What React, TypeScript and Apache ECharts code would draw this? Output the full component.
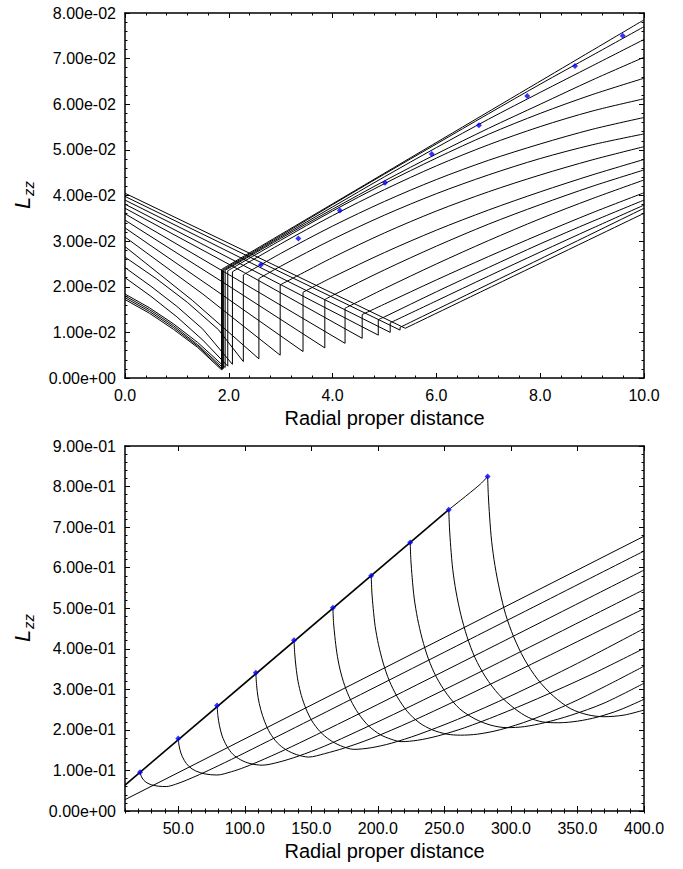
import React, { useEffect, useRef } from 'react';
import * as echarts from 'echarts';

type Pt = [number, number];

const FONT = '"Liberation Sans", Arial, Helvetica, sans-serif';
const INK = '#000000';
const MARK = '#0000ff';

// ---------- Upper panel: radial proper distance 0 – 10 ----------
// Falling branch of every track, ending with the vertical jump.
const upperFalls: Pt[][] = [
  [[0, 0.0172], [0.47, 0.0142], [0.93, 0.0107], [1.4, 0.0067], [1.86, 0.0018], [1.86, 0.0238]],
  [[0, 0.0176], [0.47, 0.0146], [0.93, 0.0111], [1.4, 0.007], [1.88, 0.0019], [1.88, 0.0237]],
  [[0, 0.018], [0.47, 0.015], [0.93, 0.0115], [1.4, 0.0073], [1.9, 0.0021], [1.9, 0.0236]],
  [[0, 0.0184], [0.47, 0.0154], [0.93, 0.0119], [1.4, 0.0078], [1.93, 0.0023], [1.93, 0.0236]],
  [[0, 0.022], [0.5, 0.0179], [1.0, 0.0134], [1.5, 0.0083], [1.98, 0.0026], [1.98, 0.0235]],
  [[0, 0.0242], [0.5, 0.0201], [1.0, 0.0157], [1.5, 0.0107], [2.07, 0.003], [2.07, 0.0233]],
  [[0, 0.0265], [0.6, 0.0218], [1.2, 0.0166], [1.8, 0.0106], [2.28, 0.0036], [2.28, 0.0226]],
  [[0, 0.0288], [1.3, 0.017], [2.58, 0.0042], [2.58, 0.0218]],
  [[0, 0.0309], [1.5, 0.0184], [2.99, 0.005], [2.99, 0.0204]],
  [[0, 0.0329], [1.7, 0.0196], [3.43, 0.0058], [3.43, 0.0188]],
  [[0, 0.0346], [1.9, 0.0209], [3.85, 0.0066], [3.85, 0.0172]],
  [[0, 0.036], [2.1, 0.022], [4.24, 0.0076], [4.24, 0.0153]],
  [[0, 0.0372], [2.3, 0.0231], [4.57, 0.0087], [4.57, 0.0139]],
  [[0, 0.0381], [4.88, 0.0094], [4.88, 0.0128]],
  [[0, 0.039], [5.11, 0.01], [5.11, 0.0121]],
  [[0, 0.0398], [5.3, 0.0105], [5.3, 0.0111]],
  [[0, 0.0405], [5.4, 0.0109]],
];

// Rising branch of every track, from the top of its jump out to 10.
const upperRises: Pt[][] = [
  [[1.86, 0.0238], [10, 0.0785]],
  [[1.88, 0.0237], [3, 0.0312], [4, 0.038], [5, 0.0447], [6, 0.0513], [7, 0.0579], [8, 0.0644], [9, 0.0707], [10, 0.077]],
  [[1.9, 0.0236], [3, 0.0309], [4, 0.0375], [5, 0.0441], [6, 0.0505], [7, 0.0567], [8, 0.0626], [9, 0.0684], [10, 0.0742]],
  [[1.93, 0.0236], [3, 0.0306], [4, 0.037], [5, 0.0432], [6, 0.0491], [7, 0.0547], [8, 0.06], [9, 0.0653], [10, 0.0703]],
  [[1.98, 0.0235], [3, 0.0302], [4, 0.0366], [5, 0.0426], [6, 0.0482], [7, 0.0534], [8, 0.058], [9, 0.0621], [10, 0.0657]],
  [[2.07, 0.0233], [3, 0.0294], [4, 0.0356], [5, 0.0413], [6, 0.0465], [7, 0.0511], [8, 0.0551], [9, 0.0585], [10, 0.0612]],
  [[2.28, 0.0226], [3, 0.0273], [4, 0.0333], [5, 0.0387], [6, 0.0435], [7, 0.0477], [8, 0.0513], [9, 0.0545], [10, 0.0571]],
  [[2.58, 0.0218], [3, 0.0245], [4, 0.0304], [5, 0.0357], [6, 0.0404], [7, 0.0445], [8, 0.0481], [9, 0.0511], [10, 0.0535]],
  [[2.99, 0.0204], [4, 0.0264], [5, 0.0318], [6, 0.0366], [7, 0.0408], [8, 0.0445], [9, 0.0478], [10, 0.0507]],
  [[3.43, 0.0188], [4, 0.0221], [5, 0.0275], [6, 0.0324], [7, 0.0368], [8, 0.0408], [9, 0.0445], [10, 0.0479]],
  [[3.85, 0.0172], [4, 0.0181], [5, 0.0237], [6, 0.0289], [7, 0.0337], [8, 0.038], [9, 0.042], [10, 0.0456]],
  [[4.24, 0.0153], [5, 0.0196], [6, 0.025], [7, 0.0301], [8, 0.0349], [9, 0.0393], [10, 0.0434]],
  [[4.57, 0.0139], [5, 0.0162], [6, 0.0215], [7, 0.0266], [8, 0.0315], [9, 0.0362], [10, 0.0406]],
  [[4.88, 0.0128], [5, 0.0134], [6, 0.0189], [7, 0.0242], [8, 0.0294], [9, 0.0343], [10, 0.039]],
  [[5.11, 0.0121], [6, 0.0169], [7, 0.0223], [8, 0.0276], [9, 0.0328], [10, 0.0379]],
  [[5.3, 0.0111], [10, 0.0372]],
  [[5.4, 0.0109], [10, 0.0361]],
];

const upperMarkers: Pt[] = [
  [2.62, 0.0248], [3.34, 0.0306], [4.14, 0.0367], [5.01, 0.0428], [5.91, 0.0491],
  [6.82, 0.0554], [7.75, 0.0618], [8.67, 0.0684], [9.59, 0.075],
];

// ---------- Lower panel: radial proper distance 10 – 400 ----------
const lowerEnvelope: Pt[] = [[10, 0.064], [253.3, 0.743]];
const lowerEnvelopeTip: Pt[] = [[253.3, 0.743], [276, 0.803], [282.5, 0.8245]];
const lowerOuterLine: Pt[] = [[10, 0.028], [400, 0.6775]];

const lowerTracks: Pt[][] = [
  [[21.3, 0.0953], [22.2, 0.086], [23.8, 0.077], [26.5, 0.0695], [30, 0.0645], [35, 0.0612], [41, 0.0603], [48, 0.0659], [56, 0.0758], [66, 0.0899], [80, 0.1114], [100, 0.1435], [150, 0.2258], [250, 0.3916], [400, 0.641]],
  [[50, 0.179], [50.7, 0.16], [52, 0.143], [54.5, 0.125], [58, 0.11], [63, 0.099], [70, 0.0915], [79, 0.0887], [90, 0.0969], [100, 0.108], [115, 0.1285], [135, 0.1583], [160, 0.1979], [200, 0.2628], [280, 0.3948], [400, 0.594]],
  [[79.2, 0.26], [79.8, 0.235], [81, 0.21], [83, 0.185], [86.5, 0.16], [91, 0.14], [97, 0.126], [104, 0.117], [113, 0.113], [125, 0.12], [140, 0.135], [160, 0.16], [185, 0.197], [220, 0.251], [280, 0.348], [400, 0.546]],
  [[108.3, 0.341], [108.9, 0.31], [110, 0.28], [112, 0.25], [115, 0.22], [119, 0.192], [124.5, 0.168], [131, 0.151], [139, 0.139], [148, 0.133], [160, 0.1414], [175, 0.1554], [195, 0.1787], [225, 0.2206], [270, 0.2896], [330, 0.3855], [400, 0.499]],
  [[137, 0.421], [137.5, 0.39], [138.5, 0.355], [140, 0.32], [142.5, 0.285], [146, 0.252], [150.5, 0.222], [156.5, 0.196], [164, 0.175], [172, 0.161], [182, 0.152], [195, 0.156], [210, 0.167], [230, 0.188], [260, 0.226], [300, 0.284], [350, 0.364], [400, 0.45]],
  [[166.2, 0.501], [166.7, 0.465], [167.7, 0.43], [169.2, 0.39], [171.5, 0.35], [175, 0.31], [179.5, 0.274], [185.5, 0.24], [193, 0.21], [202, 0.188], [210, 0.177], [217.5, 0.171], [230, 0.1745], [245, 0.185], [265, 0.205], [290, 0.236], [320, 0.277], [360, 0.336], [400, 0.401]],
  [[195, 0.58], [195.5, 0.54], [196.5, 0.5], [198, 0.455], [200.5, 0.41], [204, 0.365], [208.5, 0.322], [214.5, 0.282], [222, 0.246], [231, 0.218], [241, 0.2], [252, 0.1895], [262, 0.187], [275, 0.1895], [292, 0.2005], [315, 0.2245], [345, 0.266], [370, 0.306], [400, 0.357]],
  [[224.3, 0.662], [224.8, 0.62], [225.8, 0.575], [227.3, 0.525], [229.8, 0.475], [233.3, 0.425], [238, 0.375], [244, 0.33], [252, 0.288], [261.5, 0.252], [273, 0.227], [285, 0.2115], [297, 0.2055], [310, 0.208], [325, 0.2175], [345, 0.236], [370, 0.266], [400, 0.315]],
  [[253.3, 0.743], [253.8, 0.7], [254.8, 0.65], [256.3, 0.595], [258.8, 0.54], [262.3, 0.485], [267, 0.43], [273, 0.378], [281, 0.33], [291, 0.287], [303, 0.252], [313, 0.231], [324, 0.2195], [336, 0.2176], [350, 0.2215], [365, 0.2315], [382, 0.2495], [400, 0.2755]],
  [[282.5, 0.8245], [283, 0.78], [284, 0.725], [285.5, 0.665], [288, 0.605], [291.5, 0.545], [296, 0.485], [302, 0.43], [310, 0.375], [320, 0.325], [332, 0.283], [345, 0.252], [358, 0.237], [370, 0.2325], [385, 0.2365], [400, 0.249]],
];

const lowerMarkers: Pt[] = [
  [21.3, 0.0953], [50, 0.179], [79.2, 0.26], [108.3, 0.341], [137, 0.421],
  [166.2, 0.501], [195, 0.58], [224.3, 0.662], [253.3, 0.743], [282.5, 0.8245],
];

// Axis ranges and tick values
const upperXRange: Pt = [0, 10];
const upperYRange: Pt = [0, 0.08];
const lowerXRange: Pt = [10, 400];
const lowerYRange: Pt = [0, 0.9];
const lowerXMajor = [50, 100, 150, 200, 250, 300, 350, 400];

const AXIS_TITLE = 'Radial proper distance';

function expLabel(v: number): string {
  if (Math.abs(v) < 1e-12) return '0.00e+00';
  const [m, e] = v.toExponential(2).split('e');
  const n = parseInt(e, 10);
  return `${m}e${n < 0 ? '-' : '+'}${String(Math.abs(n)).padStart(2, '0')}`;
}

const frameLine = { show: true, onZero: false, lineStyle: { color: INK, width: 1.5 } };
const majorTick = { show: true, inside: true, length: 5, lineStyle: { color: INK, width: 1 } };
const minorTick = { show: true, splitNumber: 5, length: 2.5, lineStyle: { color: INK, width: 1 } };
const tickText = { color: INK, fontSize: 16, fontFamily: FONT };
const noSplit = { show: false };

function lineSeries(data: Pt[], xi: number, yi: number, smooth: number | false, width = 1) {
  return {
    type: 'line',
    xAxisIndex: xi,
    yAxisIndex: yi,
    data,
    symbol: 'none',
    smooth,
    lineStyle: { color: INK, width },
    silent: true,
    z: 2,
  };
}

function markerSeries(data: Pt[], xi: number, yi: number) {
  return {
    type: 'scatter',
    xAxisIndex: xi,
    yAxisIndex: yi,
    data,
    symbol: 'diamond',
    symbolSize: 6,
    itemStyle: { color: MARK },
    silent: true,
    z: 5,
  };
}

function yTitle(cx: number, cy: number) {
  return {
    type: 'group',
    x: cx,
    y: cy,
    rotation: Math.PI / 2,
    children: [
      {
        type: 'text',
        x: 0,
        y: 0,
        style: { text: 'L', fontSize: 22, fontStyle: 'italic', fontFamily: FONT, fill: INK, align: 'left', verticalAlign: 'bottom' },
      },
      {
        type: 'text',
        x: 13,
        y: 3,
        style: { text: 'zz', fontSize: 15, fontStyle: 'italic', fontFamily: FONT, fill: INK, align: 'left', verticalAlign: 'bottom' },
      },
    ],
  };
}

function buildOption() {
  const series: any[] = [];
  upperFalls.forEach((d) => series.push(lineSeries(d, 0, 0, false)));
  upperRises.forEach((d) => series.push(lineSeries(d, 0, 0, 0.3)));
  series.push(markerSeries(upperMarkers, 0, 0));

  series.push(lineSeries(lowerEnvelope, 2, 2, false, 1.6));
  series.push(lineSeries(lowerEnvelopeTip, 2, 2, 0.3));
  series.push(lineSeries(lowerOuterLine, 2, 2, false));
  lowerTracks.forEach((d) => series.push(lineSeries(d, 2, 2, 0.3)));
  series.push(markerSeries(lowerMarkers, 2, 2));

  return {
    animation: false,
    backgroundColor: '#ffffff',
    grid: [
      { left: 125, top: 13, width: 519, height: 365 },
      { left: 125, top: 446, width: 519, height: 365 },
    ],
    xAxis: [
      {
        gridIndex: 0, type: 'value', position: 'bottom', min: upperXRange[0], max: upperXRange[1], interval: 2,
        axisLine: frameLine, axisTick: majorTick, minorTick, splitLine: noSplit, minorSplitLine: noSplit,
        axisLabel: { ...tickText, margin: 9, formatter: (v: number) => v.toFixed(1) },
        name: AXIS_TITLE, nameLocation: 'middle', nameGap: 30,
        nameTextStyle: { color: INK, fontSize: 20, fontFamily: FONT },
      },
      {
        gridIndex: 0, type: 'value', position: 'top', min: upperXRange[0], max: upperXRange[1], interval: 2,
        axisLine: frameLine, axisTick: majorTick, minorTick, splitLine: noSplit, axisLabel: { show: false },
      },
      {
        gridIndex: 1, type: 'value', position: 'bottom', min: lowerXRange[0], max: lowerXRange[1],
        axisLine: frameLine, axisTick: { ...majorTick, customValues: lowerXMajor }, splitLine: noSplit,
        axisLabel: { ...tickText, margin: 9, customValues: lowerXMajor, formatter: (v: number) => v.toFixed(1) },
        name: AXIS_TITLE, nameLocation: 'middle', nameGap: 30,
        nameTextStyle: { color: INK, fontSize: 20, fontFamily: FONT },
      },
      {
        gridIndex: 1, type: 'value', position: 'top', min: lowerXRange[0], max: lowerXRange[1],
        axisLine: frameLine, axisTick: { ...majorTick, customValues: lowerXMajor }, splitLine: noSplit,
        axisLabel: { show: false },
      },
      {
        gridIndex: 1, type: 'value', position: 'bottom', min: lowerXRange[0], max: lowerXRange[1], interval: 10,
        axisLine: { show: false }, axisTick: { show: true, inside: true, length: 2.5, lineStyle: { color: INK, width: 1 } },
        splitLine: noSplit, axisLabel: { show: false },
      },
      {
        gridIndex: 1, type: 'value', position: 'top', min: lowerXRange[0], max: lowerXRange[1], interval: 10,
        axisLine: { show: false }, axisTick: { show: true, inside: true, length: 2.5, lineStyle: { color: INK, width: 1 } },
        splitLine: noSplit, axisLabel: { show: false },
      },
    ],
    yAxis: [
      {
        gridIndex: 0, type: 'value', position: 'left', min: upperYRange[0], max: upperYRange[1], interval: 0.01,
        axisLine: frameLine, axisTick: majorTick, minorTick, splitLine: noSplit, minorSplitLine: noSplit,
        axisLabel: { ...tickText, margin: 9, formatter: expLabel },
      },
      {
        gridIndex: 0, type: 'value', position: 'right', min: upperYRange[0], max: upperYRange[1], interval: 0.01,
        axisLine: frameLine, axisTick: majorTick, minorTick, splitLine: noSplit, axisLabel: { show: false },
      },
      {
        gridIndex: 1, type: 'value', position: 'left', min: lowerYRange[0], max: lowerYRange[1], interval: 0.1,
        axisLine: frameLine, axisTick: majorTick, minorTick, splitLine: noSplit, minorSplitLine: noSplit,
        axisLabel: { ...tickText, margin: 9, formatter: expLabel },
      },
      {
        gridIndex: 1, type: 'value', position: 'right', min: lowerYRange[0], max: lowerYRange[1], interval: 0.1,
        axisLine: frameLine, axisTick: majorTick, minorTick, splitLine: noSplit, axisLabel: { show: false },
      },
    ],
    graphic: [yTitle(33, 209), yTitle(33, 642)],
    series,
  };
}

export default function App() {
  const ref = useRef<HTMLDivElement>(null);
  useEffect(() => {
    if (!ref.current) return;
    const chart = echarts.init(ref.current, null, { renderer: 'svg' });
    chart.setOption(buildOption() as any);
    return () => chart.dispose();
  }, []);
  return (
    <div
      ref={ref}
      style={{ position: 'fixed', left: 0, top: 0, width: 683, height: 869, background: '#ffffff' }}
    />
  );
}
